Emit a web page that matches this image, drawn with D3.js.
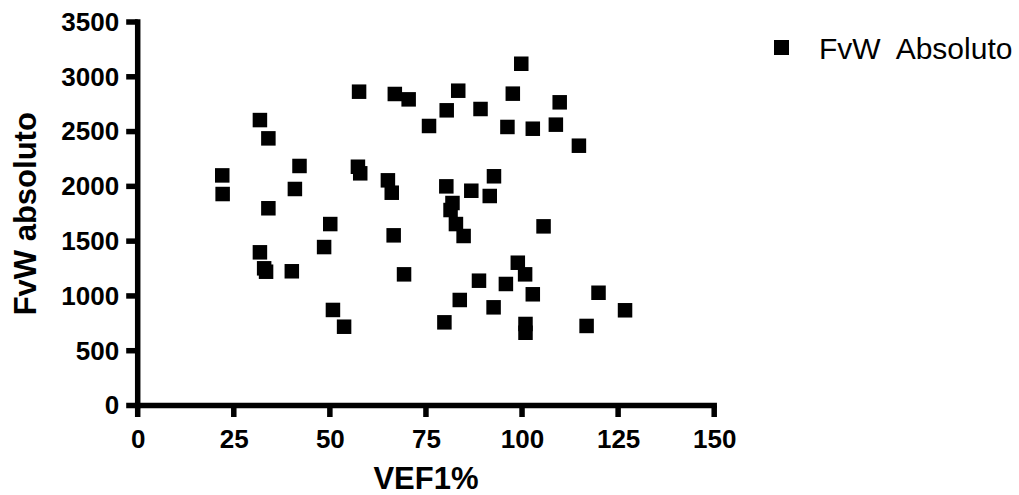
<!DOCTYPE html>
<html>
<head>
<meta charset="utf-8">
<script src="https://cdn.jsdelivr.net/npm/d3@7"></script>
<style>
  html, body { margin: 0; padding: 0; background: #fff; }
  svg { display: block; font-family: "Liberation Sans", Arial, sans-serif; }
  .tick text { font-weight: bold; font-size: 26px; fill: #000; }
</style>
</head>
<body>
<div id="chart"></div>
<script>
// VEF1% (x) vs FvW absoluto (y)
const vef1 = [22.0, 22.1, 31.8, 34.0, 34.0, 42.1, 40.9, 31.8, 32.9, 33.4,
  40.1, 48.5, 50.1, 50.8, 53.7, 57.6, 57.3, 57.9, 65.1, 66.1,
  66.6, 69.3, 66.9, 70.5, 75.8, 80.4, 83.4, 80.3, 81.4, 81.9,
  82.8, 84.8, 86.8, 92.7, 89.2, 97.6, 96.2, 99.8, 102.8, 108.8,
  109.8, 114.8, 91.6, 105.6, 79.8, 83.8, 88.8, 92.6, 95.8, 98.9,
  100.8, 102.8, 100.9, 100.9, 116.8, 119.9, 126.8];
const fvwAbs = [2100, 1930, 2605, 2438, 1800, 2186, 1976, 1398, 1252, 1221,
  1225, 1446, 1656, 872, 719, 2864, 2179, 2119, 2055, 1942,
  1553, 1197, 2843, 2794, 2551, 2694, 2873, 2000, 1784, 1848,
  1656, 1547, 1960, 2092, 2706, 2846, 2542, 3119, 2526, 2563,
  2767, 2371, 1912, 1635, 759, 963, 1139, 896, 1109, 1303,
  1197, 1015, 744, 664, 726, 1029, 869];
const xTicks = [0, 25, 50, 75, 100, 125, 150];
const yTicks = [0, 500, 1000, 1500, 2000, 2500, 3000, 3500];
const seriesName = "FvW  Absoluto";

const width = 1019, height = 495;
const svg = d3.select("#chart").append("svg")
  .attr("width", width)
  .attr("height", height);

const x = d3.scaleLinear().domain([0, 150]).range([137.7, 714.2]);
const y = d3.scaleLinear().domain([0, 3500]).range([405.5, 22]);

const lw = 5.5, tk = 11.5;

// axes: d3 places the labels, the thick lines are filled rects
const gx = svg.append("g")
  .attr("transform", `translate(0,${y(0)})`)
  .call(d3.axisBottom(x).tickValues(xTicks).tickFormat(d3.format("d"))
    .tickSize(tk).tickSizeOuter(0).tickPadding(13));
const gy = svg.append("g")
  .attr("transform", `translate(${x(0)},0)`)
  .call(d3.axisLeft(y).tickValues(yTicks).tickFormat(d3.format("d"))
    .tickSize(tk).tickSizeOuter(0).tickPadding(7));
svg.selectAll(".domain, .tick line").remove();

const axisG = svg.append("g").attr("fill", "#000");
axisG.append("rect")
  .attr("x", x(0) - lw / 2).attr("y", y(3500) - lw / 2)
  .attr("width", lw).attr("height", y(0) - y(3500) + lw);
axisG.append("rect")
  .attr("x", x(0) - lw / 2).attr("y", y(0) - lw / 2)
  .attr("width", x(150) - x(0) + lw).attr("height", lw);
axisG.selectAll(".xt").data(xTicks).join("rect")
  .attr("x", d => x(d) - lw / 2).attr("y", y(0))
  .attr("width", lw).attr("height", tk);
axisG.selectAll(".yt").data(yTicks).join("rect")
  .attr("x", x(0) - tk).attr("y", d => y(d) - lw / 2)
  .attr("width", tk).attr("height", lw);

// axis titles
svg.append("text")
  .attr("x", (x.range()[0] + x.range()[1]) / 2)
  .attr("y", 489)
  .attr("text-anchor", "middle")
  .style("font-weight", "bold")
  .style("font-size", "31px")
  .text("VEF1%");

svg.append("text")
  .attr("transform", `translate(36,${(y.range()[0] + y.range()[1]) / 2}) rotate(-90)`)
  .attr("text-anchor", "middle")
  .style("font-weight", "bold")
  .style("font-size", "31px")
  .text("FvW absoluto");

// points
const sq = 14.5;
svg.append("g")
  .selectAll("rect")
  .data(d3.zip(vef1, fvwAbs))
  .join("rect")
  .attr("x", d => x(d[0]) - sq / 2)
  .attr("y", d => y(d[1]) - sq / 2)
  .attr("width", sq)
  .attr("height", sq)
  .attr("fill", "#000");

// legend
const lg = svg.append("g").attr("transform", "translate(781.5,47.5)");
lg.append("rect")
  .attr("x", -7.5).attr("y", -7.5)
  .attr("width", 15).attr("height", 15)
  .attr("fill", "#000");
lg.append("text")
  .attr("x", 37.5)
  .attr("y", 11.8)
  .style("font-size", "30px")
  .style("white-space", "pre")
  .text(seriesName);
</script>
</body>
</html>
